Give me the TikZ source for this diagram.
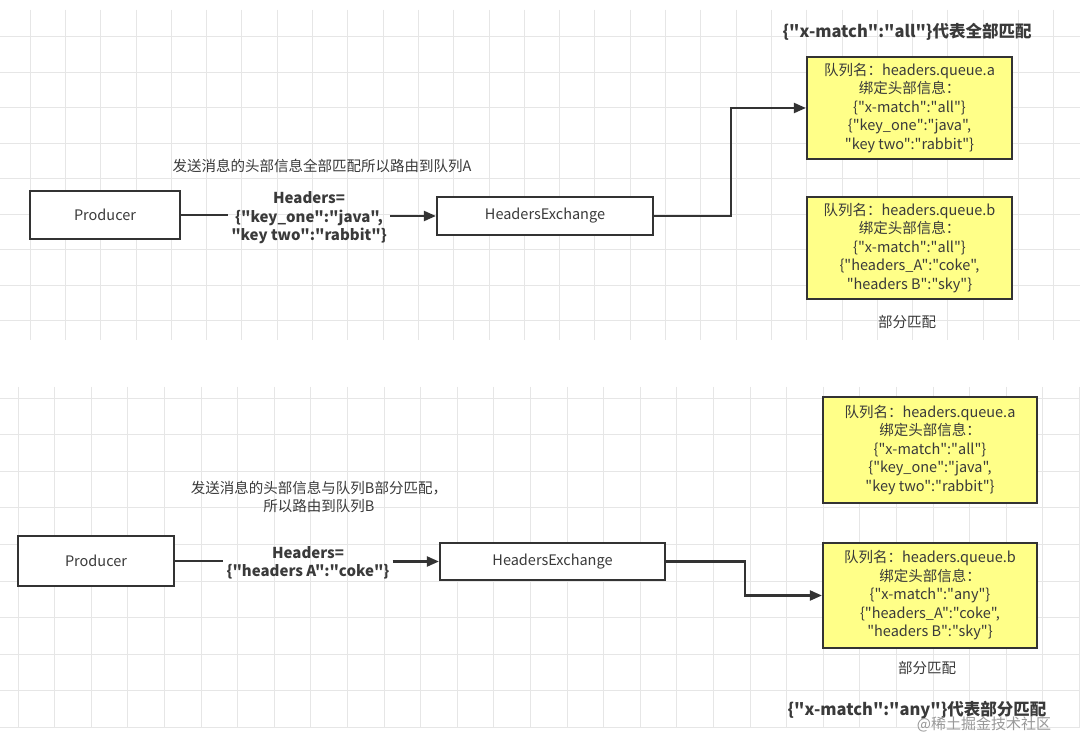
\documentclass[tikz,border=0pt]{standalone}
\usepackage{fontspec}
\newfontfamily\mf{Noto Sans CJK SC}
\usetikzlibrary{arrows.meta}
\definecolor{qyellow}{HTML}{FFFF88}
\definecolor{ink}{HTML}{333333}
\definecolor{txt}{HTML}{3A3A3A}
\definecolor{gridc}{HTML}{E6E6E6}
\tikzset{
  gridl/.style={draw=gridc, line width=0.8pt},
  boxn/.style={draw=ink, line width=2.2pt, fill=white, inner sep=0pt, text=txt,
    font=\mf\fontsize{14.5}{18}\selectfont},
  qbox/.style={boxn, fill=qyellow, align=center, font=\mf\fontsize{14.5}{18.5}\selectfont},
  lbl/.style={align=center, text=txt, inner sep=2pt, font=\mf\fontsize{14.5}{18.5}\selectfont},
  hlbl/.style={align=center, text=txt, inner xsep=3pt, inner ysep=1pt, font=\mf\bfseries\fontsize{15}{18.5}\selectfont},
  ttl/.style={align=center, text=txt, inner sep=1pt, font=\mf\bfseries\fontsize{16.5}{20}\selectfont},
  conn/.style={draw=ink, line width=2.1pt},
  arr/.style={conn, -{Triangle[length=12pt,width=10pt]}}
}
\begin{document}
\begin{tikzpicture}[x=1pt,y=-1pt]
\useasboundingbox[fill=white] (0,0) rectangle (1080,735);
% grids
\foreach \i in {0,...,30} {\draw[gridl] ({-5.3+35.3*\i},10) -- ({-5.3+35.3*\i},340);}
\foreach \i in {0,...,8} {\draw[gridl] (0,{36.5+35.5*\i}) -- (1080,{36.5+35.5*\i});}
\foreach \i in {0,...,29} {\draw[gridl] ({18+36.6*\i},387) -- ({18+36.6*\i},728);}
\foreach \i in {0,...,9} {\draw[gridl] (0,{398+36.6*\i}) -- (1080,{398+36.6*\i});}

% ---------- top panel ----------
\node[boxn, minimum width=150pt, minimum height=48pt] (prod1) at (105,215) {Producer};
\node[boxn, minimum width=216pt, minimum height=38pt] (exch1) at (545,216) {HeadersExchange};
\node[qbox, minimum width=205pt, minimum height=102pt] (qa1) at (909.5,108)
  {队列名：headers.queue.a\\绑定头部信息：\\\{"x-match":"all"\}\\\{"key\_one":"java",\\"key two":"rabbit"\}};
\node[qbox, minimum width=205pt, minimum height=102pt] (qb1) at (909.5,248)
  {队列名：headers.queue.b\\绑定头部信息：\\\{"x-match":"all"\}\\\{"headers\_A":"coke",\\"headers B":"sky"\}};
\node[lbl] (note1) at (322,166) {发送消息的头部信息全部匹配所以路由到队列A};
\node[hlbl] (hl1) at (309,218) {Headers=\\\{"key\_one":"java",\\"key two":"rabbit"\}};
\node[ttl] (title1) at (907,32) {\{"x-match":"all"\}代表全部匹配};
\node[lbl] (pf1) at (907,322) {部分匹配};

\draw[conn] (prod1.east) -- (prod1.east -| hl1.west);
\draw[arr] (hl1.east |- exch1.west) -- (exch1.west);
\draw[arr] (exch1.east) -- ++(77,0) |- (qa1.west);

% ---------- bottom panel ----------
\node[boxn, minimum width=156pt, minimum height=50pt] (prod2) at (96,561) {Producer};
\node[boxn, minimum width=225pt, minimum height=37pt] (exch2) at (552.5,561.5) {HeadersExchange};
\node[qbox, minimum width=214pt, minimum height=106pt] (qa2) at (930,450)
  {队列名：headers.queue.a\\绑定头部信息：\\\{"x-match":"all"\}\\\{"key\_one":"java",\\"key two":"rabbit"\}};
\node[qbox, minimum width=214pt, minimum height=105pt] (qb2) at (930,595.5)
  {队列名：headers.queue.b\\绑定头部信息：\\\{"x-match":"any"\}\\\{"headers\_A":"coke",\\"headers B":"sky"\}};
\node[lbl] (note2) at (319,497) {发送消息的头部信息与队列B部分匹配，\\所以路由到队列B};
\node[hlbl] (hl2) at (308,563) {Headers=\\\{"headers A":"coke"\}};
\node[lbl] (pf2) at (927,668) {部分匹配};
\node[ttl] (title2) at (917,710) {\{"x-match":"any"\}代表部分匹配};
\node[text=black!40, inner sep=0pt, font=\mf\fontsize{15}{17}\selectfont] (wm) at (984,724) {@稀土掘金技术社区};

\draw[conn] (prod2.east) -- (prod2.east -| hl2.west);
\draw[arr] (hl2.east |- exch2.west) -- (exch2.west);
\draw[arr] (exch2.east) -- ++(79,0) |- (qb2.west);
\end{tikzpicture}
\end{document}
